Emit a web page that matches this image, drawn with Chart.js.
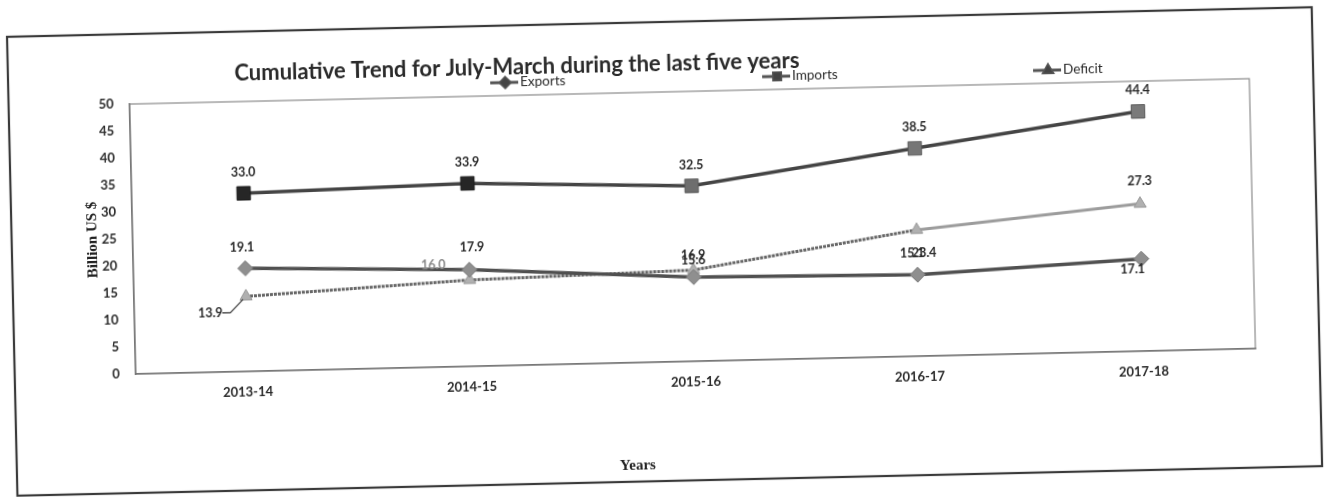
<!DOCTYPE html>
<html>
<head>
<meta charset="utf-8">
<style>
html,body{margin:0;padding:0;background:#fff;overflow:hidden;width:1327px;height:497px}
#wrap{position:absolute;left:0;top:0;width:1327px;height:497px;transform:rotate(-1.3deg);transform-origin:663.5px 248.5px}
canvas{display:block}
</style>
<script src="https://cdn.jsdelivr.net/npm/chart.js@4.4.1/dist/chart.umd.min.js"></script>
</head>
<body>
<div id="wrap"><canvas id="c" width="1327" height="497"></canvas></div>
<script>
// ---- data ----
const categories = ['2013-14', '2014-15', '2015-16', '2016-17', '2017-18'];
const exportsValues = [19.1, 17.9, 15.6, 15.1, 17.1];
const importsValues = [33.0, 33.9, 32.5, 38.5, 44.4];
const deficitValues = [13.9, 16.0, 16.9, 23.4, 27.3];
const yMin = 0, yMax = 50, yStep = 5;
const chartTitle = 'Cumulative Trend for July-March during the last five years';
const yAxisTitle = 'Billion US $';
const xAxisTitle = 'Years';
const seriesNames = ['Exports', 'Imports', 'Deficit'];

// ---- label placement (style, not data) ----
const labelOffsets = {
  Exports: [[-3,-21],[3,-22],[0,-17],[-5,-21],[-9,10]],
  Imports: [[0,-21],[0,-21],[0,-21],[0,-21],[0,-21]],
  Deficit: [[-36,16],[-36,-16],[0,-15],[7,23],[0,-23]]
};

const decor = {
  id: 'decor',
  beforeDraw(chart) {
    const ctx = chart.ctx, a = chart.chartArea;
    ctx.save();
    ctx.fillStyle = '#fff';
    ctx.fillRect(0, 0, chart.width, chart.height);
    // outer frame
    ctx.strokeStyle = '#3a3a3a';
    ctx.lineWidth = 2.2;
    ctx.strokeRect(12, 22, 1305, 459);
    // plot area border
    ctx.strokeStyle = '#8a8a8a';
    ctx.lineWidth = 1.2;
    ctx.strokeRect(a.left, a.top, a.right - a.left, a.bottom - a.top);
    ctx.restore();
  },
  afterDraw(chart) {
    const ctx = chart.ctx;
    ctx.save();
    ctx.textAlign = 'center';
    ctx.textBaseline = 'middle';
    // title
    ctx.fillStyle = '#2a2a2a';
    ctx.font = 'bold 22px Lato';
    ctx.fillText(chartTitle, 521, 64);
    // legend
    const legX = [524, 796, 1067];
    const styles = ['rectRot', 'rect', 'triangle'];
    ctx.font = '13.5px Lato';
    chart.data.datasets.forEach((ds, i) => {
      const tx = legX[i], ty = 79;
      ctx.strokeStyle = '#555';
      ctx.lineWidth = 3;
      ctx.beginPath();
      ctx.moveTo(tx - 30, ty);
      ctx.lineTo(tx - 2, ty);
      ctx.stroke();
      Chart.helpers.drawPoint(ctx, {pointStyle: styles[i], radius: 5, borderWidth: 1, rotation: 0}, tx - 15, ty);
      ctx.fillStyle = '#444';
      ctx.strokeStyle = '#444';
      ctx.fill();
      ctx.textAlign = 'left';
      ctx.fillStyle = '#2a2a2a';
      ctx.fillText(ds.label, tx, ty);
    });
    // axis titles
    ctx.textAlign = 'center';
    ctx.font = 'bold 15px "Liberation Serif"';
    ctx.fillStyle = '#222';
    ctx.fillText(xAxisTitle, 633, 465);
    ctx.save();
    ctx.translate(93, 227);
    ctx.rotate(-Math.PI / 2);
    ctx.font = 'bold 15px "Liberation Serif"';
    ctx.fillText(yAxisTitle, 0, 0);
    ctx.restore();
    // data labels
    ctx.font = 'bold 12.5px Lato';
    chart.data.datasets.forEach((ds, di) => {
      const meta = chart.getDatasetMeta(di);
      const offs = labelOffsets[ds.label];
      meta.data.forEach((pt, i) => {
        const [dx, dy] = offs[i];
        const lx = pt.x + dx, ly = pt.y + dy;
        ctx.fillStyle = (ds.label === 'Deficit' && i === 1) ? '#8a8a8a' : '#2a2a2a';
        ctx.fillText(ds.data[i].toFixed(1), lx, ly);
        if (ds.label === 'Deficit' && i === 0) {
          ctx.strokeStyle = '#333';
          ctx.lineWidth = 1.2;
          ctx.beginPath();
          ctx.moveTo(lx + 12, ly);
          ctx.lineTo(lx + 20, ly);
          ctx.lineTo(pt.x - 3, pt.y + 3);
          ctx.stroke();
        }
      });
    });
    ctx.restore();
  }
};

new Chart(document.getElementById('c'), {
  type: 'line',
  data: {
    labels: categories,
    datasets: [
      {
        label: seriesNames[0], data: exportsValues,
        borderColor: '#505050', borderWidth: 3.5,
        pointStyle: 'rectRot', pointRadius: 7.5,
        pointBackgroundColor: '#8f8f8f', pointBorderColor: '#7a7a7a', pointBorderWidth: 1
      },
      {
        label: seriesNames[1], data: importsValues,
        borderColor: '#444', borderWidth: 3.5,
        pointStyle: 'rect', pointRadius: 9.5,
        pointBackgroundColor: ['#262626', '#262626', '#6e6e6e', '#767676', '#7a7a7a'],
        pointBorderColor: ['#1a1a1a', '#1a1a1a', '#5a5a5a', '#5a5a5a', '#5a5a5a'], pointBorderWidth: 1
      },
      {
        label: seriesNames[2], data: deficitValues,
        borderColor: '#9c9c9c', borderWidth: 3,
        segment: {
          borderColor: c => c.p1DataIndex <= 3 ? '#666' : '#9c9c9c',
          borderDash: c => c.p1DataIndex <= 3 ? [3, 1] : undefined
        },
        pointStyle: 'triangle', pointRadius: 7,
        pointBackgroundColor: '#b0b0b0', pointBorderColor: '#999', pointBorderWidth: 1
      }
    ]
  },
  options: {
    responsive: false,
    animation: false,
    devicePixelRatio: 1,
    layout: { padding: { left: 0, top: 92, right: 74, bottom: 95 } },
    plugins: { legend: { display: false }, title: { display: false }, tooltip: { enabled: false } },
    scales: {
      x: {
        offset: true,
        grid: { display: false, drawTicks: false },
        border: { display: true, color: '#777', width: 1.5 },
        ticks: { color: '#2a2a2a', font: { family: 'Lato', weight: 'bold', size: 13 }, padding: 13, maxRotation: 0 },
        afterFit: s => { s.height = 40; }
      },
      y: {
        min: yMin, max: yMax,
        grid: { display: false, drawTicks: false },
        border: { display: true, color: '#777', width: 1.5 },
        ticks: { stepSize: yStep, color: '#2a2a2a', font: { family: 'Lato', weight: 'bold', size: 13 }, padding: 16 },
        afterFit: s => { s.width = 133; }
      }
    }
  },
  plugins: [decor]
});
</script>
</body>
</html>
